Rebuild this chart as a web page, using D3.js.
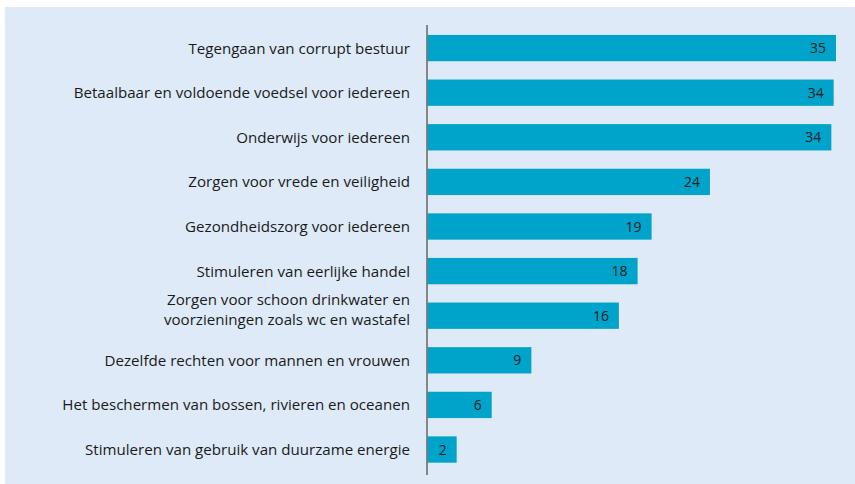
<!DOCTYPE html>
<html>
<head>
<meta charset="utf-8">
<script src="https://cdn.jsdelivr.net/npm/d3@7"></script>
<style>
  html, body { margin: 0; padding: 0; background: #fff; }
  svg { display: block; }
</style>
</head>
<body>
<div id="chart"></div>
<script>
// Horizontal bar chart - prioriteiten
const categories = [
  "Tegengaan van corrupt bestuur",
  "Betaalbaar en voldoende voedsel voor iedereen",
  "Onderwijs voor iedereen",
  "Zorgen voor vrede en veiligheid",
  "Gezondheidszorg voor iedereen",
  "Stimuleren van eerlijke handel",
  "Zorgen voor schoon drinkwater en\nvoorzieningen zoals wc en wastafel",
  "Dezelfde rechten voor mannen en vrouwen",
  "Het beschermen van bossen, rivieren en oceanen",
  "Stimuleren van gebruik van duurzame energie"
];
const values = [35, 34.8, 34.6, 24.2, 19.2, 18.0, 16.4, 8.9, 5.5, 2.5];
const valueLabels = ["35", "34", "34", "24", "19", "18", "16", "9", "6", "2"];

(function() {
  const width = 855, height = 484;

  const svg = d3.select('#chart')
    .append('svg')
    .attr('width', width)
    .attr('height', height);

  svg.append('rect')
    .attr('x', 5).attr('y', 7)
    .attr('width', width - 5).attr('height', height - 7)
    .attr('fill', '#deeaf7');

  const x = d3.scaleLinear()
    .domain([0, 35])
    .range([427.5, 836]);

  const y = d3.scaleBand()
    .domain(categories)
    .range([26, 471.6])
    .paddingInner(0.41)
    .paddingOuter(0.2);

  svg.selectAll('rect.bar')
    .data(categories)
    .join('rect')
    .attr('class', 'bar')
    .attr('x', x(0))
    .attr('y', d => y(d))
    .attr('width', (d, i) => x(values[i]) - x(0))
    .attr('height', y.bandwidth())
    .attr('fill', '#00a4ca');

  svg.selectAll('text.val')
    .data(categories)
    .join('text')
    .attr('class', 'val')
    .attr('x', (d, i) => x(values[i]) - 10)
    .attr('y', d => y(d) + y.bandwidth() / 2)
    .attr('dy', '0.36em')
    .attr('text-anchor', 'end')
    .style('font-family', '"Open Sans", sans-serif')
    .style('font-size', '14px')
    .style('fill', '#1a1a1a')
    .text((d, i) => valueLabels[i]);

  const labels = svg.selectAll('text.cat')
    .data(categories)
    .join('text')
    .attr('class', 'cat')
    .attr('text-anchor', 'end')
    .style('font-family', '"Open Sans", sans-serif')
    .style('font-size', '14.5px')
    .style('fill', '#1a1a1a');

  labels.each(function(d) {
    const lines = d.split('\n');
    const cy = y(d) + y.bandwidth() / 2;
    const t = d3.select(this);
    lines.forEach((line, j) => {
      t.append('tspan')
        .attr('x', 410)
        .attr('y', cy + (j - (lines.length - 1) / 2) * 20 - (lines.length > 1 ? 6 : 0))
        .attr('dy', '0.36em')
        .text(line);
    });
  });

  // the longest label is about 348px wide in the original, size the font to match
  const longest = labels.filter((d, i) => i === 8).node().getComputedTextLength();
  const fs = 14.5 * 348 / longest;
  labels.style('font-size', fs + 'px');

  // axis line
  svg.append('line')
    .attr('x1', 427).attr('x2', 427)
    .attr('y1', 25).attr('y2', 475)
    .attr('stroke', '#666')
    .attr('stroke-width', 1.5);
})();
</script>
</body>
</html>
